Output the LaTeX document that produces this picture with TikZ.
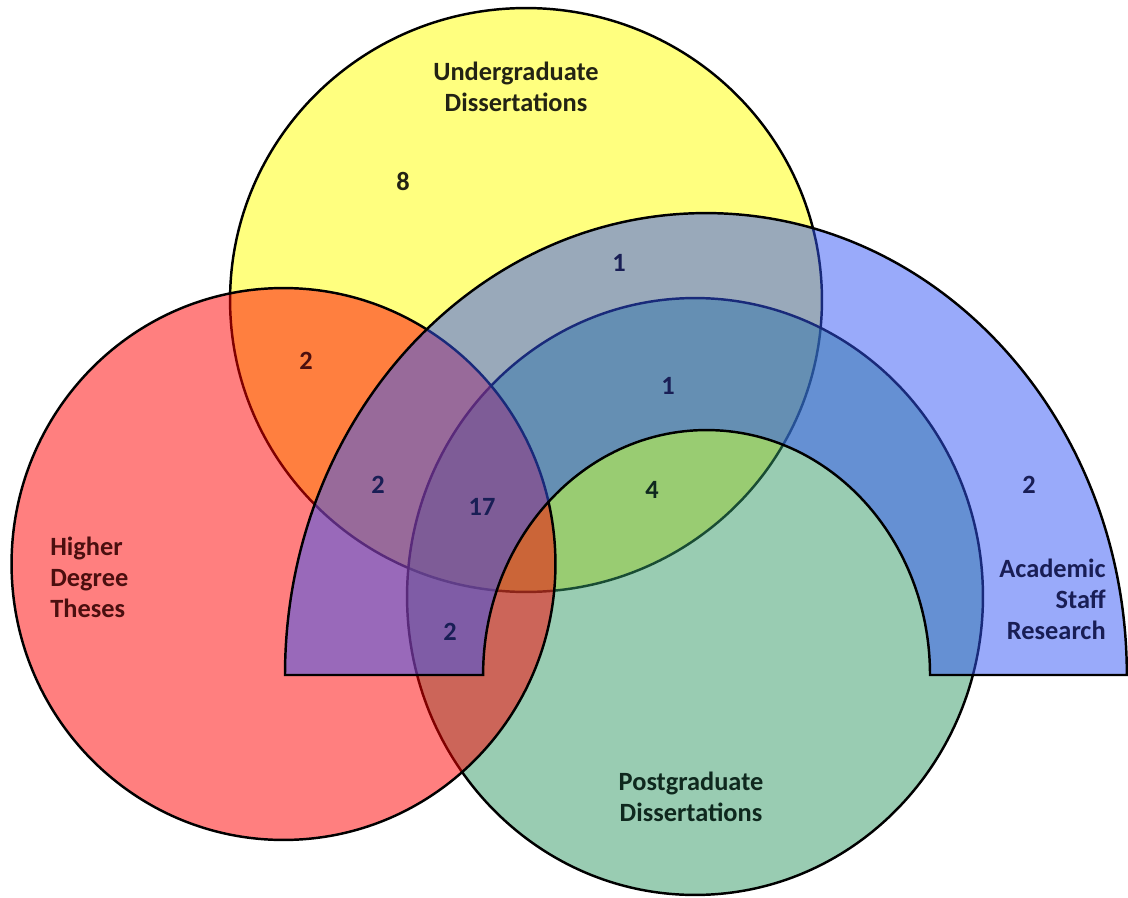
\documentclass[tikz,border=0pt]{standalone}
\usepackage{fontspec}
\setmainfont{Carlito}
\usepackage{xcolor}
\usepackage{tikz}

\definecolor{ugyellow}{RGB}{255,255,0}
\definecolor{pggreen}{RGB}{51,153,102}
\definecolor{hdred}{RGB}{255,0,0}
\definecolor{asblue}{RGB}{51,85,245}
\definecolor{ugtext}{RGB}{35,35,20}
\definecolor{hdtext}{RGB}{75,15,15}
\definecolor{pgtext}{RGB}{15,40,30}
\definecolor{astext}{RGB}{25,30,85}

\begin{document}
\begin{tikzpicture}[
    x=0.02cm, y=0.02cm,
    set/.style = {draw=black, line width=1.4pt, fill opacity=0.5},
    lbl/.style = {font=\fontsize{15}{17.6}\selectfont\bfseries, inner sep=0pt},
    num/.style = {lbl}
]
    \useasboundingbox (0,0) rectangle (1128,897);

    % the four sets, back to front
    \draw[set, fill=ugyellow] (526,597) ellipse [x radius=5.92cm, y radius=5.84cm];
    \draw[set, fill=pggreen] (695,300.5) ellipse [x radius=5.76cm, y radius=5.97cm];
    \draw[set, fill=hdred] (283.5,333) ellipse [x radius=5.44cm, y radius=5.52cm];
    \draw[set, fill=asblue] (285,222)
        arc[start angle=180, end angle=0, x radius=8.42cm, y radius=9.24cm]
        -- (930,222)
        arc[start angle=0, end angle=180, x radius=4.47cm, y radius=4.90cm]
        -- cycle;

    \node[lbl, ugtext, align=center] (ug) at (516,810) {Undergraduate\\Dissertations};
    \node[lbl, hdtext, align=left, anchor=west] (hd) at (50,320) {Higher\\Degree\\Theses};
    \node[lbl, pgtext, align=center] (pg) at (691,100) {Postgraduate\\Dissertations};
    \node[lbl, astext, align=right, anchor=east] (as) at (1106,298) {Academic\\Staff\\Research};

    % counts
    \node[num, ugtext] (nug) at (403,715) {8};
    \node[num, astext] (nugas) at (619,634) {1};
    \node[num, hdtext] (nughd) at (306,536) {2};
    \node[num, astext] (nugaspg) at (668,511) {1};
    \node[num, astext] (nughdas) at (378,412) {2};
    \node[num, astext] (nall) at (482,390) {17};
    \node[num, pgtext] (nugpg) at (652,407) {4};
    \node[num, astext] (nas) at (1029,412) {2};
    \node[num, astext] (nhdaspg) at (450,265) {2};
\end{tikzpicture}
\end{document}
